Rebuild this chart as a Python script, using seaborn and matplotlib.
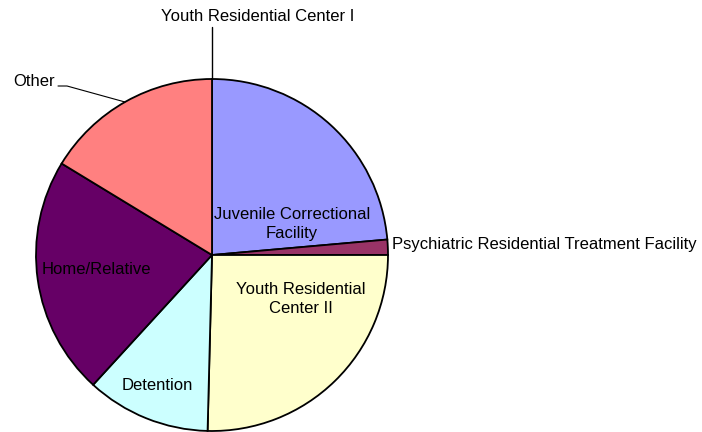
import matplotlib
matplotlib.use("Agg")
import matplotlib.pyplot as plt
import seaborn as sns

categories = ["Youth Residential Center I", "Juvenile Correctional\nFacility",
              "Psychiatric Residential Treatment Facility", "Youth Residential\nCenter II",
              "Detention", "Home/Relative", "Other"]
values = [0.0, 23.6, 1.4, 25.4, 11.4, 21.9, 16.3]
colors = ["#FFFFFF", "#9999FF", "#993366", "#FFFFCC", "#CCFFFF", "#660066", "#FF8080"]

sns.set_style("white")
plt.rcParams['font.family'] = ['Liberation Sans', 'DejaVu Sans']
plt.rcParams['text.color'] = 'black'

fig = plt.figure(figsize=(7.02, 4.32), dpi=100)
ax = fig.add_axes([36/702, 1/432, 352/702, 352/432])
ax.pie(values, colors=sns.color_palette(colors), startangle=90, counterclock=False,
       radius=1.0, wedgeprops=dict(edgecolor="black", linewidth=1.3))
ax.set_xlim(-1, 1)
ax.set_ylim(-1, 1)
ax.set_aspect("equal")
ax.axis("off")

def d(px, py):
    return ((px - 212) / 176, (255 - py) / 176)

fs = 12
# top zero slice label
ax.plot([0, 0], [1, d(0, 27)[1]], color="black", lw=1, clip_on=False)
x, y = d(258, 16)
ax.text(x, y, categories[0], ha="center", va="center", fontsize=fs, color="black", clip_on=False)
# Other label and leader
p1 = d(58, 86); p2 = d(67, 86); p3 = d(125, 102)
ax.plot([p1[0], p2[0], p3[0]], [p1[1], p2[1], p3[1]], color="black", lw=0.8, clip_on=False)
x, y = d(55, 81)
ax.text(x, y, categories[6], ha="right", va="center", fontsize=fs, color="black", clip_on=False)
# Psychiatric
x, y = d(392, 244)
ax.text(x, y, categories[2], ha="left", va="center", fontsize=fs, color="black", clip_on=False)
# Inside labels
for lab, (px, py) in [(categories[1], (292, 224)), (categories[3], (301, 299)),
                      (categories[4], (157, 386)), (categories[5], (96, 270))]:
    x, y = d(px, py)
    ax.text(x, y, lab, ha="center", va="center", fontsize=fs, color="black", linespacing=1.4)

fig.savefig("out.png", dpi=100)
